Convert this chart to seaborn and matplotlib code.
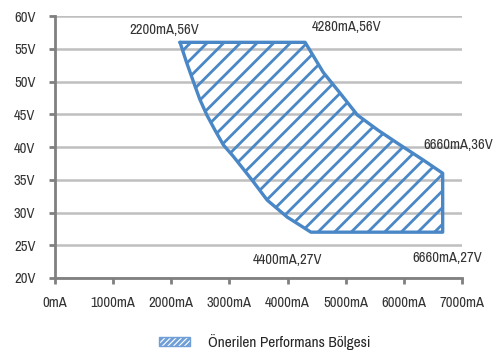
import matplotlib
matplotlib.use('Agg')
import matplotlib.pyplot as plt
from matplotlib.patches import Patch
import seaborn as sns
import pandas as pd

# region boundary (mA, V), clockwise from top-left corner
boundary_ma = [2150, 4300, 4613, 4905, 5198, 5550, 5886, 6334, 6665, 6665,
               4400, 3993, 3648, 3385, 3064, 2897, 2750, 2611, 2490, 2380, 2260, 2150]
boundary_v = [56, 56, 51.4, 48.2, 44.9, 42.6, 40.6, 38.0, 36.0, 27.0,
              27.0, 29.3, 31.9, 35.0, 38.6, 40.3, 42.6, 44.9, 47.3, 50.0, 53.0, 56]

# corner annotations
label_text = ['2200mA,56V', '4280mA,56V', '6660mA,36V', '4400mA,27V', '6660mA,27V']
label_x = [1880, 5020, 6930, 3990, 6740]
label_y = [57.9, 58.3, 40.3, 22.7, 23.1]

x_ticks = [0, 1000, 2000, 3000, 4000, 5000, 6000, 7000]
y_ticks = [20, 25, 30, 35, 40, 45, 50, 55, 60]

blue = '#4a87c6'
sns.set_style('white')
plt.rcParams['font.family'] = ['Archivo Narrow', 'Roboto Condensed', 'Liberation Sans', 'DejaVu Sans']
plt.rcParams['hatch.linewidth'] = 2.0
plt.rcParams['hatch.color'] = blue

df = pd.DataFrame({'mA': boundary_ma, 'V': boundary_v})

fig = plt.figure(figsize=(5.04, 3.51), dpi=100)
ax = fig.add_axes([0.109, 0.208, 0.808, 0.746])

ax.fill(df['mA'], df['V'], facecolor='none', edgecolor=blue, hatch='//', linewidth=0)
sns.lineplot(data=df, x='mA', y='V', sort=False, estimator=None, color=blue,
             linewidth=2.4, ax=ax)

for t, x, y in zip(label_text, label_x, label_y):
    ax.text(x, y, t, ha='center', va='center', fontsize=10.5, color='#333333')

ax.set_xlim(0, 7000)
ax.set_ylim(20, 60)
ax.set_xticks(x_ticks)
ax.set_xticklabels([f'{v}mA' for v in x_ticks])
ax.set_yticks(y_ticks)
ax.set_yticklabels([f'{v}V' for v in y_ticks])
ax.set_xlabel('')
ax.set_ylabel('')

ax.grid(axis='y', color='#bfbfbf', linewidth=1.8)
ax.set_axisbelow(True)
for s in ['top', 'right']:
    ax.spines[s].set_visible(False)
for s in ['left', 'bottom']:
    ax.spines[s].set_color('#808080')
    ax.spines[s].set_linewidth(2)
ax.tick_params(axis='x', length=4, width=2, color='#808080', pad=9,
               labelsize=10.5, labelcolor='#333333', bottom=True)
ax.tick_params(axis='y', length=4, width=2, color='#808080', pad=10,
               labelsize=10.5, labelcolor='#333333', left=True)

handle = Patch(facecolor='none', edgecolor='#6f9fd6', hatch='//////', linewidth=1)
fig.legend([handle], ['Önerilen Performans Bölgesi'], loc='center',
           bbox_to_anchor=(0.525, 0.025), frameon=False, fontsize=11,
           handlelength=2.0, handleheight=0.55, handletextpad=1.2)

fig.savefig('out.png', dpi=100)
